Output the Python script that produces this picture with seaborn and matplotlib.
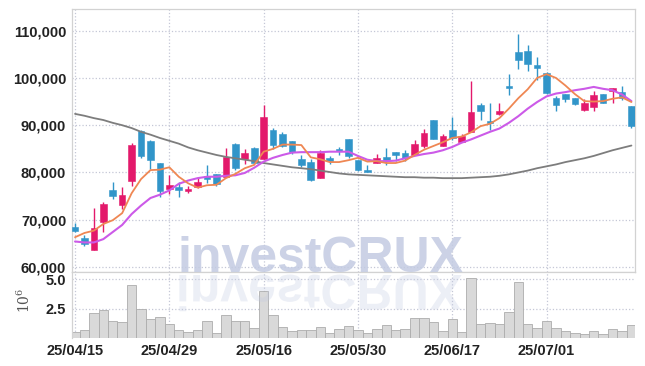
import numpy as np
import pandas as pd
import matplotlib
matplotlib.use("Agg")
import matplotlib.pyplot as plt
import seaborn as sns
from matplotlib.ticker import FuncFormatter
from matplotlib.textpath import TextPath
from matplotlib.patches import PathPatch
from matplotlib.font_manager import FontProperties
from matplotlib.transforms import Affine2D

# trading days (YY/MM/DD)
dates = ["25/04/15", "25/04/16", "25/04/17", "25/04/18", "25/04/21", "25/04/22", "25/04/23", "25/04/24",
         "25/04/25", "25/04/28", "25/04/29", "25/04/30", "25/05/02", "25/05/07", "25/05/08", "25/05/09",
         "25/05/12", "25/05/13", "25/05/14", "25/05/15", "25/05/16", "25/05/19", "25/05/20", "25/05/21",
         "25/05/22", "25/05/23", "25/05/26", "25/05/27", "25/05/28", "25/05/29", "25/05/30", "25/06/02",
         "25/06/04", "25/06/05", "25/06/09", "25/06/10", "25/06/11", "25/06/12", "25/06/13", "25/06/16",
         "25/06/17", "25/06/18", "25/06/19", "25/06/20", "25/06/23", "25/06/24", "25/06/25", "25/06/26",
         "25/06/27", "25/06/30", "25/07/01", "25/07/02", "25/07/03", "25/07/04", "25/07/07", "25/07/08",
         "25/07/09", "25/07/10", "25/07/11", "25/07/14"]

opens = [68500, 66100, 63700, 69500, 76300, 73200, 78100, 88800, 86600, 82000,
         76500, 77000, 76000, 77000, 79200, 79700, 79100, 86100, 82900, 85200,
         82900, 89000, 88200, 86600, 82900, 82300, 78800, 83100, 84900, 87100,
         82700, 80600, 82000, 83300, 84300, 84200, 83600, 85600, 91000, 85700,
         89000, 86400, 88600, 94200, 90800, 92400, 98400, 105400, 105600, 102700,
         101100, 95800, 96500, 95800, 93300, 93900, 96500, 97200, 97000, 94100]
highs = [69300, 66800, 72400, 73700, 78000, 77000, 86200, 88900, 86800, 82000,
         79400, 78000, 77100, 79000, 81500, 79700, 85200, 86300, 85000, 85300,
         94300, 89400, 88600, 86600, 83600, 82900, 84700, 83500, 85400, 87100,
         82700, 81500, 84000, 85200, 84300, 84700, 86800, 89300, 91200, 88200,
         91700, 88200, 99300, 94800, 94800, 94600, 100900, 109400, 106900, 104500,
         101300, 96200, 96500, 95800, 95600, 97200, 96500, 97900, 98400, 94100]
lows = [67400, 64400, 63700, 67400, 74300, 72300, 77100, 83100, 80800, 74800,
        75500, 74800, 75600, 76700, 77800, 77100, 79100, 80600, 81800, 82000,
        82900, 84900, 85400, 84000, 81100, 78300, 78800, 81800, 83700, 83000,
        80400, 80100, 82000, 81600, 82500, 82500, 83600, 85200, 87000, 85600,
        86800, 86400, 88600, 91000, 88900, 92100, 96300, 101800, 101400, 99600,
        96500, 93000, 94900, 94200, 93100, 93100, 94600, 94800, 95400, 89500]
closes = [67700, 64900, 68300, 73400, 75100, 75300, 85900, 83400, 82700, 76000,
          77400, 76200, 76500, 78000, 78700, 77500, 83300, 81000, 84200, 82000,
          91700, 85900, 85600, 84400, 81500, 78500, 84200, 82400, 84600, 83500,
          80600, 80200, 83000, 82700, 83600, 83000, 86100, 88400, 87000, 87700,
          87300, 87800, 92900, 93100, 90500, 93000, 97800, 103900, 103000, 102200,
          96900, 94200, 95500, 94400, 94600, 96300, 94800, 97900, 95800, 89800]

# moving averages as drawn on the chart
ma5 = [66300, 67200, 67700, 69100, 69900, 71400, 75600, 78600, 80500, 80600,
       81100, 79100, 77700, 76800, 77300, 77400, 78800, 79700, 80900, 81600,
       84400, 85000, 85900, 85900, 85800, 83200, 82800, 82200, 82200, 82600,
       83100, 82300, 82400, 82000, 82000, 82500, 83700, 84800, 85600, 86400,
       87300, 87600, 88500, 89800, 90300, 91500, 93500, 95700, 97600, 100000,
       100800, 100000, 98400, 96600, 95100, 95000, 95100, 95600, 95900, 94900]
ma20 = [65400, 65200, 65200, 65900, 67400, 68900, 71200, 73000, 74600, 75300,
        76200, 77600, 78300, 78800, 79100, 79100, 79300, 79400, 79900, 81000,
        82300, 83100, 83700, 84200, 84300, 84300, 84300, 84400, 84400, 84400,
        83500, 82700, 82400, 82400, 82500, 83000, 83500, 83900, 84200, 84700,
        85400, 86300, 87000, 87800, 88600, 89300, 90500, 91900, 93500, 94900,
        96100, 96700, 97000, 97400, 97700, 98100, 97700, 97400, 96500, 95100]
ma60 = [92400, 92000, 91500, 91100, 90500, 90000, 89400, 88600, 88000, 87300,
        86700, 86100, 85300, 84700, 84200, 83700, 83300, 83000, 82700, 82400,
        82000, 81700, 81400, 81100, 80900, 80700, 80400, 80100, 79800, 79600,
        79500, 79400, 79300, 79200, 79100, 79000, 79000, 78900, 78900, 78800,
        78800, 78800, 78900, 79000, 79100, 79300, 79600, 80000, 80400, 80900,
        81300, 81700, 82200, 82600, 83000, 83500, 84100, 84700, 85200, 85700]

# volume in millions
volume = [0.49, 0.66, 2.09, 2.37, 1.42, 1.35, 4.51, 2.43, 1.60, 1.75,
          1.17, 0.66, 0.49, 0.66, 1.42, 0.40, 1.94, 1.42, 1.42, 0.80,
          4.00, 1.94, 0.92, 0.60, 0.66, 0.66, 0.88, 0.43, 0.72, 1.00,
          0.66, 0.37, 0.72, 1.06, 0.66, 0.72, 1.66, 1.66, 1.35, 0.58,
          1.57, 0.49, 5.09, 1.17, 1.26, 1.17, 2.18, 4.74, 1.17, 0.83,
          1.41, 0.80, 0.58, 0.40, 0.31, 0.58, 0.31, 0.74, 0.58, 1.06]

df = pd.DataFrame({"date": dates, "open": opens, "high": highs, "low": lows, "close": closes,
                   "ma5": ma5, "ma20": ma20, "ma60": ma60, "volume": volume})
df["idx"] = np.arange(len(df))

red = "#e3196b"
blue = "#3195c9"
grid_c = "#c4c7d6"
spine_c = "#d2d2d2"

sns.set_style("white")
plt.rcParams["font.family"] = ["DejaVu Sans"]

fig = plt.figure(figsize=(6.45, 3.66), dpi=100)
ax = fig.add_axes([0.1112, 0.256, 0.8733, 0.7186])
axv = fig.add_axes([0.1112, 0.0765, 0.8733, 0.1795])

# candles
up = df["close"] >= df["open"]
cols = np.where(up, red, blue)
ax.vlines(df["idx"], df["low"], df["high"], colors=cols, lw=1.0, zorder=2)
body_bot = np.minimum(df["open"], df["close"])
body_h = np.maximum((df["close"] - df["open"]).abs(), 250)
ax.bar(df["idx"], body_h, bottom=body_bot, width=0.7, color=cols, edgecolor=cols, lw=0.4, zorder=3)

# moving averages
sns.lineplot(data=df, x="idx", y="ma60", ax=ax, color="#7d7d7d", lw=1.3, zorder=4)
sns.lineplot(data=df, x="idx", y="ma20", ax=ax, color="#cc5ae8", lw=1.5, zorder=5)
sns.lineplot(data=df, x="idx", y="ma5", ax=ax, color="#ef8753", lw=1.3, zorder=6)

ax.set_xlim(-0.35, 59.38)
ax.set_ylim(58880, 114524)
ax.set_yticks(range(60000, 110001, 10000))
ax.yaxis.set_major_formatter(FuncFormatter(lambda v, p: f"{v:,.0f}"))
ax.set_xticks(range(0, 60, 10))
ax.tick_params(axis="x", labelbottom=False, length=0)
ax.tick_params(axis="y", length=0, pad=4, labelsize=10.5, labelcolor="#222222")
ax.set_xlabel("")
ax.set_ylabel("")
ax.grid(True, ls=":", color=grid_c, lw=0.9)
for s in ax.spines.values():
    s.set_color(spine_c)
    s.set_linewidth(0.9)

# volume
axv.bar(df["idx"], df["volume"], width=1.0, color="#d9d9d9", edgecolor="#acacac", lw=0.6, zorder=2)
axv.set_xlim(-0.35, 59.38)
axv.set_ylim(-0.02, 5.6)
axv.set_yticks([2.5, 5.0])
axv.set_yticklabels(["2.5", "5.0"])
axv.set_xticks(range(0, 60, 10))
axv.set_xticklabels([dates[i] for i in range(0, 60, 10)])
axv.tick_params(axis="both", length=0, labelsize=10.5, labelcolor="#222222")
axv.tick_params(axis="y", pad=4)
axv.tick_params(axis="x", pad=4)
axv.grid(True, ls=":", color=grid_c, lw=0.9)
axv.set_axisbelow(True)
axv.set_ylabel(r"$10^{6}$", fontsize=10, color="#555555", math_fontfamily="dejavuserif")
axv.yaxis.set_label_coords(-0.068, 0.58)
for k, s in axv.spines.items():
    s.set_color(spine_c)
    s.set_linewidth(0.9)
    s.set_visible(k in ("left", "top"))

for lbl in ax.get_yticklabels() + axv.get_yticklabels() + axv.get_xticklabels():
    lbl.set_fontfamily(["Liberation Sans", "DejaVu Sans"])
    lbl.set_fontweight("bold")

# watermark with reflection
fp = FontProperties(family="Liberation Sans", weight="bold")
fig.text(320.5 / 645, 94 / 366, "investCRUX", fontproperties=fp, fontsize=36,
         color="#c3cbe2", alpha=0.85, ha="center", va="baseline", zorder=10)
tp = TextPath((0, 0), "investCRUX", size=50, prop=fp)
ext = tp.get_extents()
tr = Affine2D().scale(1, -1).translate(320.5 - ext.width / 2 - ext.x0, 91)
fig.add_artist(PathPatch(tp, transform=tr, facecolor="#c3cbe2", edgecolor="none", alpha=0.3, zorder=10))

fig.savefig("out.png", dpi=100)
